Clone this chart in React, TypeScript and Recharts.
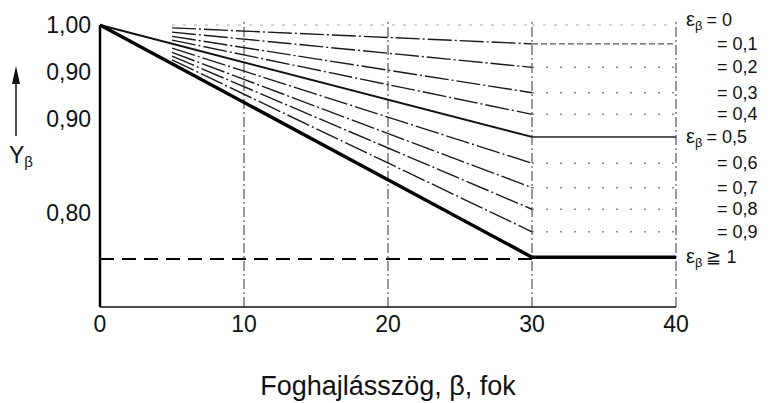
import React from 'react';
import { LineChart, Line, XAxis, YAxis, ReferenceLine, LabelList, Customized } from 'recharts';

// ε_β families
const epsValues = [0, 0.1, 0.2, 0.3, 0.4, 0.5, 0.6, 0.7, 0.8, 0.9, 1];
const epsTexts = ['0', '0,1', '0,2', '0,3', '0,4', '0,5', '0,6', '0,7', '0,8', '0,9', '1'];
const startBeta = [5, 5, 5, 5, 5, 0, 5, 5, 5, 5, 0];
const yAtStart = [1, 0.997, 0.9925, 0.988, 0.984, 1, 0.9755, 0.971, 0.967, 0.963, 1];
const yAtKnee = [1, 0.98, 0.955, 0.928, 0.905, 0.881, 0.853, 0.827, 0.804, 0.78, 0.753];
const kneeBeta = 30;
const endBeta = 40;

const xTicks = [0, 10, 20, 30, 40];
const yTicks = [0.8, 0.9, 0.95, 1.0];
const yTickLabels = ['0,80', '0,90', '0,90', '1,00'];
const gridBetas = [10, 20, 30, 40];
const dashedLevel = 0.751;
const yMin = 0.7;
const yMax = 1.0043;

const FONT = "'Liberation Sans', Arial, sans-serif";

const slopeData = epsValues.map((_, i) => [
  { x: startBeta[i], y: yAtStart[i] },
  { x: kneeBeta, y: yAtKnee[i] },
]);
const flatData = epsValues.map((_, i) => [
  { x: kneeBeta, y: yAtKnee[i] },
  { x: endBeta, y: yAtKnee[i] },
]);

function slopeStyle(i: number) {
  if (i === 0) return { stroke: '#aaa', strokeWidth: 1, strokeDasharray: '3 8' };
  if (i === 5) return { stroke: '#111', strokeWidth: 2 };
  if (i === 10) return { stroke: '#000', strokeWidth: 3.5 };
  return { stroke: '#1a1a1a', strokeWidth: 1.4, strokeDasharray: '24 3 2 3' };
}
function flatStyle(i: number) {
  if (i === 0) return { stroke: '#aaa', strokeWidth: 1, strokeDasharray: '3 8' };
  if (i === 5) return { stroke: '#222', strokeWidth: 1.5 };
  if (i === 10) return { stroke: '#000', strokeWidth: 3.5 };
  if (i === 1) return { stroke: '#555', strokeWidth: 1.2, strokeDasharray: '6 3' };
  return { stroke: '#888', strokeWidth: 1.5, strokeDasharray: '2 12' };
}

const makeLabel = (i: number) => (props: any) => {
  const { index } = props;
  if (index !== 1) return null;
  const px = props.x ?? props.viewBox?.x;
  let py = props.y ?? props.viewBox?.y;
  if (i === 0) py -= 5;
  const withEps = i === 0 || i === 5 || i === 10;
  const rel = i === 10 ? '≧' : '=';
  if (withEps) {
    return (
      <text x={px + 10} y={py + 6} fontSize={18} fontFamily={FONT} fill="#111">
        <tspan fontSize={20}>ε</tspan>
        <tspan fontSize={13} dy={4}>β</tspan>
        <tspan dy={-4} dx={4}>{`${rel} ${epsTexts[i]}`}</tspan>
      </text>
    );
  }
  return (
    <text x={px + 41} y={py + 6} fontSize={18} fontFamily={FONT} fill="#111">
      {`= ${epsTexts[i]}`}
    </text>
  );
};

const Annotations = () => (
  <g>
    <line x1={16} y1={80} x2={16} y2={136} stroke="#111" strokeWidth={1.5} />
    <polygon points="16,66 12,84 20,84" fill="#111" />
    <text x={9} y={163} fontSize={23} fontFamily={FONT} fill="#111">
      <tspan>Y</tspan>
      <tspan fontSize={15} dy={4}>β</tspan>
    </text>
    <text x={388} y={395} fontSize={27} fontFamily={FONT} fill="#111" textAnchor="middle">
      Foghajlásszög, β, fok
    </text>
  </g>
);

export default function App() {
  return (
    <div style={{ position: 'absolute', left: 0, top: 0, width: 773, height: 403, background: '#fff' }}>
      <LineChart width={773} height={403} margin={{ top: 21, right: 97, bottom: 0, left: 10 }}>
        <XAxis
          type="number"
          dataKey="x"
          domain={[0, 40]}
          ticks={xTicks}
          axisLine={{ stroke: '#111', strokeWidth: 1.5 }}
          tickLine={false}
          tickSize={0}
          tickMargin={9}
          height={96}
          tick={{ fontSize: 23, fill: '#111', fontFamily: FONT }}
        />
        <YAxis
          type="number"
          domain={[yMin, yMax]}
          ticks={yTicks}
          tickFormatter={(v: number) => yTickLabels[yTicks.indexOf(v)]}
          axisLine={false}
          tickLine={false}
          tickSize={0}
          tickMargin={9}
          width={90}
          allowDataOverflow
          tick={{ fontSize: 23, fill: '#111', fontFamily: FONT }}
        />
        {gridBetas.map((b) => (
          <ReferenceLine
            key={`g${b}`}
            segment={[{ x: b, y: yMin }, { x: b, y: yMax }]}
            stroke="#333"
            strokeWidth={1}
            strokeDasharray="10 3 2 3"
          />
        ))}
        <ReferenceLine
          segment={[{ x: 0, y: dashedLevel }, { x: kneeBeta, y: dashedLevel }]}
          stroke="#000"
          strokeWidth={2}
          strokeDasharray="14 8"
        />
        <ReferenceLine segment={[{ x: 0, y: yMin }, { x: 0, y: 1 }]} stroke="#000" strokeWidth={2.5} />
        {slopeData.map((d, i) => (
          <Line
            key={`s${i}`}
            data={d}
            dataKey="y"
            type="linear"
            dot={false}
            activeDot={false}
            isAnimationActive={false}
            {...slopeStyle(i)}
          />
        ))}
        {flatData.map((d, i) => (
          <Line
            key={`f${i}`}
            data={d}
            dataKey="y"
            type="linear"
            dot={false}
            activeDot={false}
            isAnimationActive={false}
            {...flatStyle(i)}
          >
            <LabelList dataKey="y" content={makeLabel(i)} />
          </Line>
        ))}
        <Customized component={<Annotations />} />
      </LineChart>
    </div>
  );
}
